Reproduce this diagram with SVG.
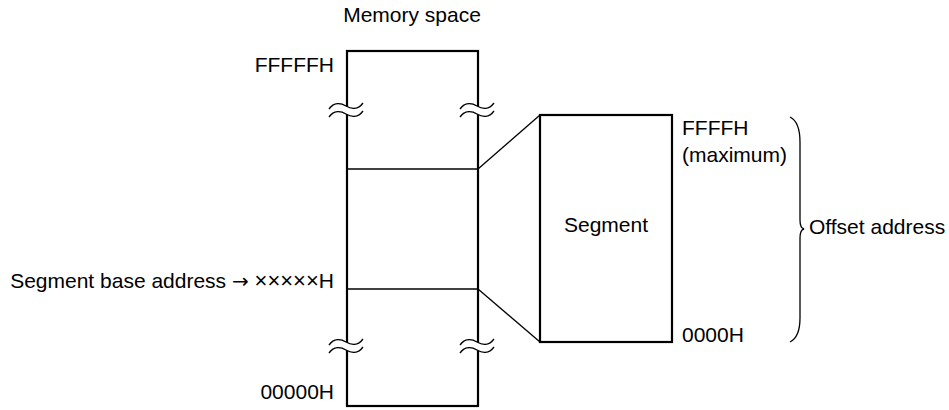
<svg xmlns="http://www.w3.org/2000/svg" width="949" height="410" viewBox="0 0 949 410">
<style>
text{font-family:"Liberation Sans",Arial,sans-serif;font-size:21px;fill:#000}
.sym{font-family:"DejaVu Sans",sans-serif}
.box{fill:none;stroke:#000;stroke-width:2.2}
.thin{fill:none;stroke:#000;stroke-width:1.3}
.gap{fill:#fff;stroke:none}
</style>
<defs>
<g id="brk">
<path class="gap" d="M-17,-1 C-12,-8 -5,-7 0,-4 C5,-1 12,0 17,-7 L17,1 C12,8 5,7 0,4 C-5,1 -12,0 -17,7 Z"/>
<path class="thin" d="M-17,-1 C-12,-8 -5,-7 0,-4 C5,-1 12,0 17,-7"/>
<path class="thin" d="M-17,7 C-12,0 -5,1 0,4 C5,7 12,8 17,1"/>
</g>
</defs>
<rect width="949" height="410" fill="#fff"/>
<g id="memory">
<text x="412" y="22" text-anchor="middle">Memory space</text>
<rect class="box" x="347" y="51" width="131" height="355"/>
<line class="thin" x1="347" y1="169" x2="478" y2="169"/>
<line class="thin" x1="347" y1="289" x2="478" y2="289"/>
<use href="#brk" x="346" y="110"/>
<use href="#brk" x="477" y="110"/>
<use href="#brk" x="346" y="346"/>
<use href="#brk" x="477" y="346"/>
<text x="334" y="72" text-anchor="end">FFFFFH</text>
<text x="334" y="399" text-anchor="end">00000H</text>
<text x="334" y="288" text-anchor="end">Segment base address <tspan class="sym" font-size="20">→</tspan> <tspan font-size="22" font-weight="300">×××××</tspan>H</text>
</g>
<g id="connectors">
<line class="thin" x1="478" y1="169" x2="540" y2="115"/>
<line class="thin" x1="478" y1="289" x2="540" y2="342"/>
</g>
<g id="segment">
<rect class="box" x="540" y="115" width="132" height="227"/>
<text x="606" y="232" text-anchor="middle">Segment</text>
<text x="682" y="135">FFFFH</text>
<text x="682" y="162">(maximum)</text>
<text x="682" y="342">0000H</text>
</g>
<g id="offset">
<path class="thin" d="M790,117 Q800,122 800,142 L800,220 Q800,228 804,229 Q800,230 800,238 L800,318 Q800,337 790,342"/>
<text x="809" y="234">Offset address</text>
</g>
</svg>
